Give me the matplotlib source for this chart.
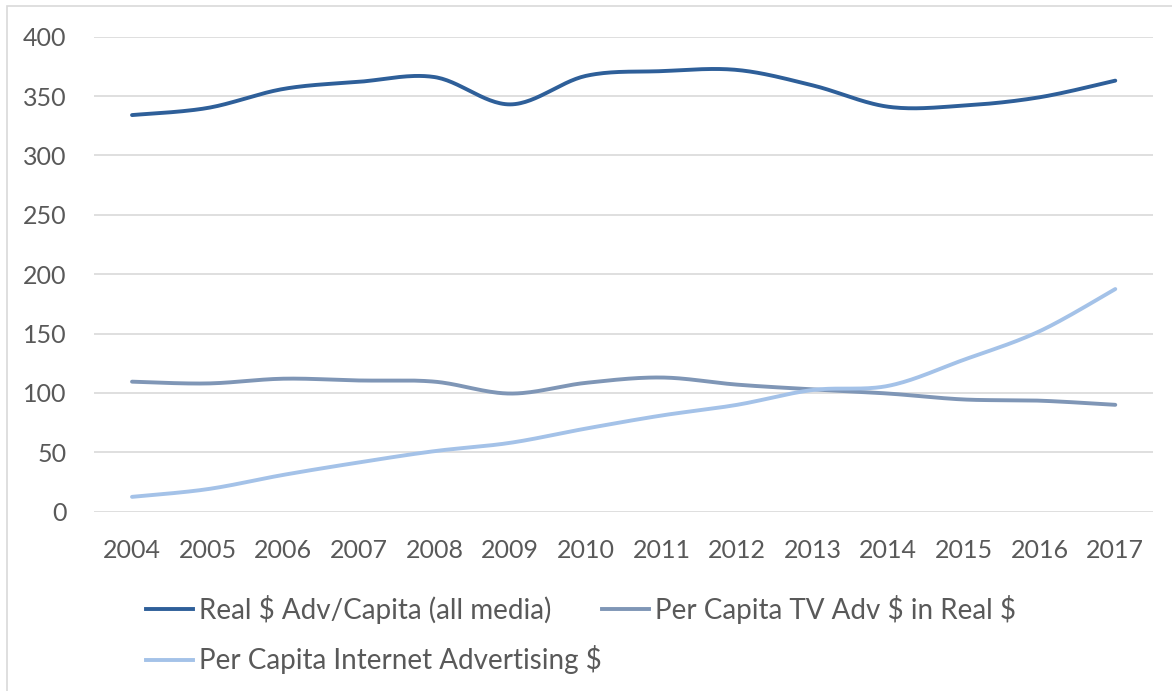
import numpy as np
import matplotlib
matplotlib.use("Agg")
import matplotlib.pyplot as plt
from matplotlib.lines import Line2D
from matplotlib.patches import Rectangle

years = ["2004", "2005", "2006", "2007", "2008", "2009", "2010",
         "2011", "2012", "2013", "2014", "2015", "2016", "2017"]
real_all_media = [334, 340, 356, 362, 366, 343, 367, 371, 372, 359, 341, 342, 349, 363]
tv_real = [109.5, 108, 112, 110.5, 109.5, 99.5, 108.5, 113, 107, 103, 99.5, 94.5, 93.5, 90]
internet = [12.5, 19, 31, 41.5, 51, 58, 70, 81, 90, 102.5, 106, 128, 152, 187.5]
series_names = ["Real $ Adv/Capita (all media)",
                "Per Capita TV Adv $ in Real $",
                "Per Capita Internet Advertising $"]
colors = ["#2E5F99", "#7F96B6", "#A4C2E8"]

plt.rcParams['font.family'] = ['Lato', 'DejaVu Sans']
plt.rcParams['text.parse_math'] = False
TXT = "#595959"


def smooth(x, y, n=30):
    """Catmull-Rom style smoothing (like Excel smoothed lines)."""
    x = np.asarray(x, float)
    y = np.asarray(y, float)
    P = np.column_stack([x, y])
    Pext = np.vstack([P[0], P, P[-1]])
    out = []
    for i in range(len(P) - 1):
        p0, p1, p2, p3 = Pext[i], Pext[i + 1], Pext[i + 2], Pext[i + 3]
        c1 = p1 + (p2 - p0) / 6.0
        c2 = p2 - (p3 - p1) / 6.0
        t = np.linspace(0, 1, n, endpoint=(i == len(P) - 2))[:, None]
        seg = ((1 - t) ** 3) * p1 + 3 * ((1 - t) ** 2) * t * c1 + 3 * (1 - t) * t ** 2 * c2 + t ** 3 * p2
        out.append(seg)
    out = np.vstack(out)
    return out[:, 0], out[:, 1]


fig = plt.figure(figsize=(11.72, 6.91), dpi=100)
ax = fig.add_axes([94.2 / 1172, 1 - 511.7 / 691, (1153.1 - 94.2) / 1172, (511.7 - 36.7) / 691])

xi = np.arange(len(years))
for vals, c in zip([real_all_media, tv_real, internet], colors):
    sx, sy = smooth(xi, vals)
    ax.plot(sx, sy, color=c, lw=2.8, solid_capstyle='round', zorder=3)

ax.set_xlim(-0.5, len(years) - 0.5)
ax.set_ylim(0, 400)
ax.set_yticks(np.arange(0, 401, 50))
ax.set_xticks(xi)
ax.set_xticklabels(years)
ax.grid(axis='y', color='#D9D9D9', lw=1.2)
ax.set_axisbelow(True)
for s in ax.spines.values():
    s.set_visible(False)
ax.tick_params(axis='both', length=0, labelsize=18, colors=TXT)
ax.tick_params(axis='y', pad=20)
ax.tick_params(axis='x', pad=20)

# legend drawn manually in figure pixel coordinates
W, H = 1172, 691
entries = [(145.7, 609, 0), (601.6, 609, 1), (145.7, 660, 2)]
for x0, y0, k in entries:
    fig.add_artist(Line2D([x0 / W, (x0 + 47) / W], [1 - y0 / H, 1 - y0 / H],
                          color=colors[k], lw=2.8, transform=fig.transFigure))
    fig.text((x0 + 53) / W, 1 - y0 / H, series_names[k], fontsize=20,
             color=TXT, va='center', ha='left')

fig.add_artist(Rectangle((7 / W, -0.02), 1.1, 1 - 5.5 / H + 0.02, transform=fig.transFigure,
                         fill=False, ec='#D9D9D9', lw=1.2))

fig.savefig("out.png", dpi=100)
